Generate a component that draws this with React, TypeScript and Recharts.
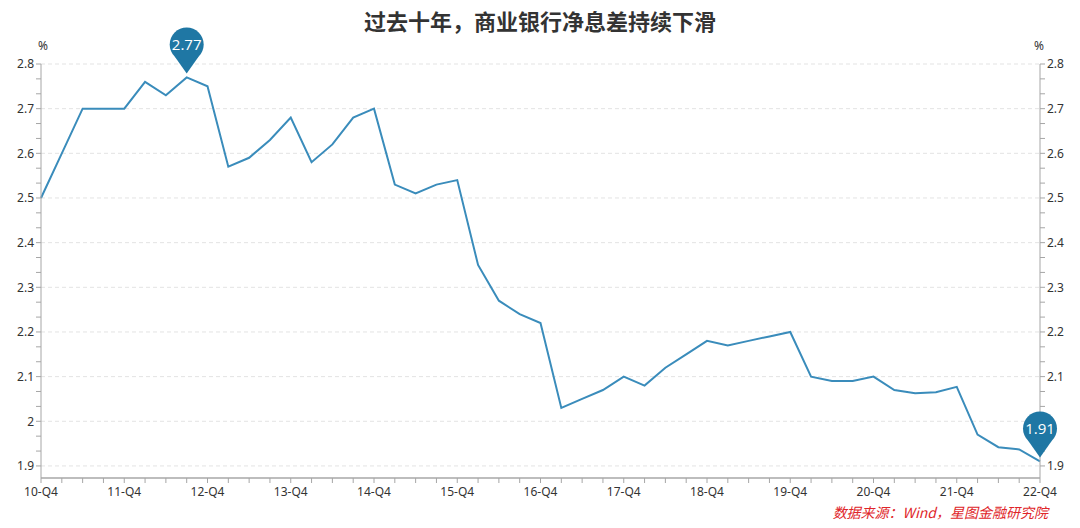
import React from 'react';
import { LineChart, Line, XAxis, YAxis, CartesianGrid, ReferenceDot } from 'recharts';

const quarters = [
  '10-Q4',
  '11-Q1', '11-Q2', '11-Q3', '11-Q4',
  '12-Q1', '12-Q2', '12-Q3', '12-Q4',
  '13-Q1', '13-Q2', '13-Q3', '13-Q4',
  '14-Q1', '14-Q2', '14-Q3', '14-Q4',
  '15-Q1', '15-Q2', '15-Q3', '15-Q4',
  '16-Q1', '16-Q2', '16-Q3', '16-Q4',
  '17-Q1', '17-Q2', '17-Q3', '17-Q4',
  '18-Q1', '18-Q2', '18-Q3', '18-Q4',
  '19-Q1', '19-Q2', '19-Q3', '19-Q4',
  '20-Q1', '20-Q2', '20-Q3', '20-Q4',
  '21-Q1', '21-Q2', '21-Q3', '21-Q4',
  '22-Q1', '22-Q2', '22-Q3', '22-Q4',
];

// 商业银行净息差 (%)
const nim = [
  2.5,
  2.6, 2.7, 2.7, 2.7,
  2.76, 2.73, 2.77, 2.75,
  2.57, 2.59, 2.63, 2.68,
  2.58, 2.62, 2.68, 2.7,
  2.53, 2.51, 2.53, 2.54,
  2.35, 2.27, 2.24, 2.22,
  2.03, 2.05, 2.07, 2.1,
  2.08, 2.12, 2.15, 2.18,
  2.17, 2.18, 2.19, 2.2,
  2.1, 2.09, 2.09, 2.1,
  2.07, 2.063, 2.065, 2.077,
  1.97, 1.942, 1.937, 1.91,
];

const majorTicks = [1.9, 2.0, 2.1, 2.2, 2.3, 2.4, 2.5, 2.6, 2.7, 2.8];
const yTicks = [
  1.9, 1.9333, 1.9667, 2.0, 2.0333, 2.0667, 2.1, 2.1333, 2.1667, 2.2,
  2.2333, 2.2667, 2.3, 2.3333, 2.3667, 2.4, 2.4333, 2.4667, 2.5, 2.5333,
  2.5667, 2.6, 2.6333, 2.6667, 2.7, 2.7333, 2.7667, 2.8,
];
const yDomain = [1.873, 2.8];

const maxPoint = { q: '12-Q3', v: 2.77, label: '2.77' };
const minPoint = { q: '22-Q4', v: 1.91, label: '1.91' };

const data = quarters.map((q, i) => ({ q, v: nim[i] }));

const W = 1080;
const H = 528;
const MARGIN = { top: 64, right: 0, left: 0, bottom: 0 };
const LINE_COLOR = '#3a8cbb';
const PIN_COLOR = '#1f77a4';
const AXIS_COLOR = '#a6a6a6';
const TEXT_COLOR = '#333';
const FONT = '"Noto Sans", "Noto Sans CJK SC", sans-serif';

const yLabel = (v: number) =>
  Math.abs(v * 10 - Math.round(v * 10)) < 0.01 ? String(Math.round(v * 10) / 10) : '';

const xLabel = (q: string, i: number) => (i % 4 === 0 ? q : '');

const Pin = (text: string) => (props: any) => {
  const { cx, cy } = props;
  if (cx == null || cy == null) return null;
  const r = 17;
  const tipY = cy - 4;
  const cY = cy - 33;
  return (
    <g>
      <path
        d={`M ${cx - 12} ${cY + 12} L ${cx} ${tipY} L ${cx + 12} ${cY + 12} Z`}
        fill={PIN_COLOR}
      />
      <circle cx={cx} cy={cY} r={r} fill={PIN_COLOR} />
      <text
        x={cx}
        y={cY}
        dy="0.36em"
        textAnchor="middle"
        fill="#fff"
        fontSize={15}
        fontFamily='"Open Sans", sans-serif'
      >
        {text}
      </text>
    </g>
  );
};

// same geometry as the main chart, only used to draw the pins above the axes
const PinLayer: React.FC = () => (
  <div style={{ position: 'absolute', left: 0, top: 0, pointerEvents: 'none' }}>
    <LineChart width={W} height={H} data={data} margin={MARGIN}>
      <XAxis dataKey="q" height={50} tick={false} tickLine={false} axisLine={false} />
      <YAxis yAxisId="left" width={41} domain={yDomain} allowDataOverflow tick={false} tickLine={false} axisLine={false} />
      <YAxis yAxisId="right" orientation="right" width={40} domain={yDomain} allowDataOverflow tick={false} tickLine={false} axisLine={false} />
      <Line yAxisId="left" dataKey="v" stroke="none" dot={false} activeDot={false} isAnimationActive={false} />
      <ReferenceDot yAxisId="left" x={maxPoint.q} y={maxPoint.v} shape={Pin(maxPoint.label)} ifOverflow="visible" />
      <ReferenceDot yAxisId="left" x={minPoint.q} y={minPoint.v} shape={Pin(minPoint.label)} ifOverflow="visible" />
    </LineChart>
  </div>
);

const App: React.FC = () => {
  return (
    <div style={{ position: 'relative', width: W, height: H, background: '#fff', fontFamily: FONT }}>
      <style>{`body{margin:0}`}</style>
      <div
        style={{
          position: 'absolute',
          top: 6,
          left: 0,
          width: W,
          textAlign: 'center',
          fontSize: 22,
          fontWeight: 'bold',
          color: TEXT_COLOR,
          fontFamily: '"Noto Sans CJK SC", sans-serif',
          lineHeight: '28px',
        }}
      >
        过去十年，商业银行净息差持续下滑
      </div>
      <div style={{ position: 'absolute', top: 37, left: 38, fontSize: 12, color: TEXT_COLOR }}>%</div>
      <div style={{ position: 'absolute', top: 37, left: 1034, fontSize: 12, color: TEXT_COLOR }}>%</div>
      <LineChart width={W} height={H} data={data} margin={MARGIN}>
        <CartesianGrid
          yAxisId="left"
          vertical={false}
          horizontalValues={majorTicks}
          stroke="#e3e3e3"
          strokeDasharray="4 3"
        />
        <XAxis
          dataKey="q"
          height={50}
          interval={0}
          tickFormatter={xLabel}
          tickSize={5}
          tickMargin={4}
          axisLine={{ stroke: '#bdbdbd', strokeWidth: 2 }}
          tickLine={{ stroke: AXIS_COLOR }}
          tick={{ fill: TEXT_COLOR, fontSize: 12, fontFamily: FONT }}
        />
        <YAxis
          yAxisId="left"
          width={41}
          domain={yDomain}
          ticks={yTicks}
          interval={0}
          allowDataOverflow
          tickFormatter={yLabel}
          tickSize={5}
          tickMargin={2}
          axisLine={{ stroke: AXIS_COLOR }}
          tickLine={{ stroke: AXIS_COLOR }}
          tick={{ fill: TEXT_COLOR, fontSize: 12, fontFamily: FONT }}
        />
        <YAxis
          yAxisId="right"
          orientation="right"
          width={40}
          domain={yDomain}
          ticks={yTicks}
          interval={0}
          allowDataOverflow
          tickFormatter={yLabel}
          tickSize={5}
          tickMargin={2}
          axisLine={{ stroke: AXIS_COLOR }}
          tickLine={{ stroke: AXIS_COLOR }}
          tick={{ fill: TEXT_COLOR, fontSize: 12, fontFamily: FONT }}
        />
        <Line
          yAxisId="left"
          type="linear"
          dataKey="v"
          stroke={LINE_COLOR}
          strokeWidth={2}
          dot={false}
          activeDot={false}
          isAnimationActive={false}
        />
      </LineChart>
      <PinLayer />
      <div
        style={{
          position: 'absolute',
          top: 502,
          right: 32,
          fontSize: 14,
          fontStyle: 'italic',
          color: '#e0262a',
          fontFamily: '"Noto Sans CJK SC", sans-serif',
          lineHeight: '20px',
        }}
      >
        数据来源：Wind，星图金融研究院
      </div>
    </div>
  );
};

export default App;
